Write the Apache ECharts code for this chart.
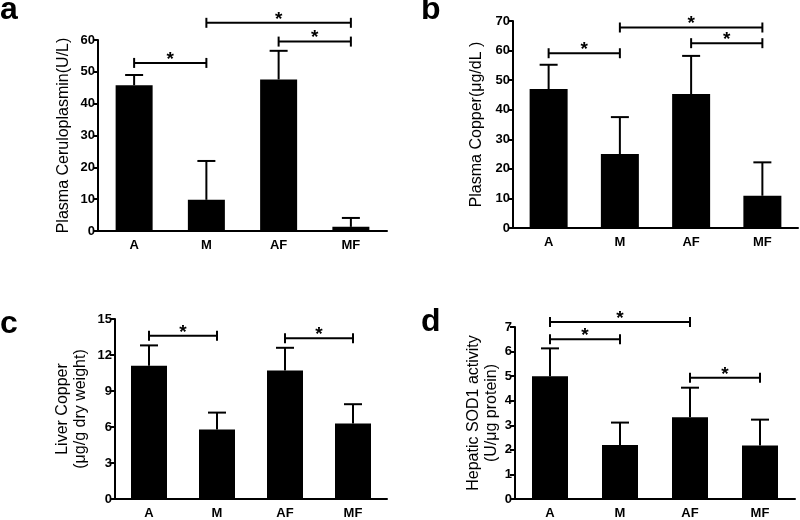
<!DOCTYPE html>
<html lang="en">
<head>
<meta charset="UTF-8">
<script src="https://cdn.jsdelivr.net/npm/echarts@6/dist/echarts.min.js"></script>
<style>
  html, body { margin: 0; padding: 0; background: #fff; }
  #main { width: 800px; height: 520px; }
</style>
</head>
<body>
<div id="main"></div>
<script>
// groups
var categories = ['A', 'M', 'AF', 'MF'];

// a - plasma ceruloplasmin (U/L)
var ceruMean = [45.8, 9.8, 47.6, 1.3];
var ceruSd = [3.2, 12.2, 9.0, 2.8];
var ceruSig = [[0, 1, 52.8], [1, 3, 65.4], [2, 3, 59.5]];

// b - plasma copper (ug/dL)
var plasmaCuMean = [47.0, 25.0, 45.3, 10.9];
var plasmaCuSd = [8.2, 12.5, 12.9, 11.3];
var plasmaCuSig = [[0, 1, 59.1], [1, 3, 67.8], [2, 3, 62.5]];

// c - liver copper
var liverCuMean = [11.1, 5.8, 10.7, 6.3];
var liverCuSd = [1.7, 1.4, 1.9, 1.6];
var liverCuSig = [[0, 1, 13.6], [2, 3, 13.4]];

// d - hepatic SOD1
var sodMean = [5.0, 2.2, 3.33, 2.18];
var sodSd = [1.13, 0.91, 1.2, 1.05];
var sodSig = [[0, 2, 7.2], [0, 1, 6.5], [2, 3, 4.93]];

var FONT = 'Liberation Sans, Arial, sans-serif';

var panels = [
  {mean: ceruMean, sd: ceruSd, sig: ceruSig, max: 60, step: 10, name: 'Plasma Ceruloplasmin(U/L)', gap: 25,
   grid: {left: 98, top: 40, width: 289, height: 191}, bar: 37},
  {mean: plasmaCuMean, sd: plasmaCuSd, sig: plasmaCuSig, max: 70, step: 10, name: 'Plasma Copper(\u03bcg/dL )', gap: 27,
   grid: {left: 513, top: 21, width: 285, height: 207}, bar: 38},
  {mean: liverCuMean, sd: liverCuSd, sig: liverCuSig, max: 15, step: 3, name: 'Liver Copper\n(\u03bcg/g dry weight)', gap: 25,
   grid: {left: 115, top: 319, width: 272, height: 182}, bar: 36},
  {mean: sodMean, sd: sodSd, sig: sodSig, max: 7, step: 1, name: 'Hepatic SOD1 activity\n(U/\u03bcg protein)', gap: 13,
   grid: {left: 515, top: 327, width: 280, height: 175}, bar: 36}
];

var grids = [], xAxes = [], yAxes = [], series = [];

panels.forEach(function (p, i) {
  grids.push(p.grid);
  xAxes.push({
    type: 'category', gridIndex: i, data: categories,
    axisLine: {lineStyle: {color: '#000', width: 2}},
    axisTick: {show: false},
    axisLabel: {color: '#000', fontFamily: FONT, fontWeight: 'bold', fontSize: 13, margin: 8}
  });
  yAxes.push({
    type: 'value', gridIndex: i, min: 0, max: p.max, interval: p.step,
    name: p.name, nameLocation: 'middle', nameGap: p.gap, nameRotate: 90,
    nameTextStyle: {color: '#000', fontFamily: FONT, fontSize: 16, lineHeight: 18},
    axisLine: {show: true, lineStyle: {color: '#000', width: 2}},
    axisTick: {show: true, length: 5, lineStyle: {color: '#000', width: 2}},
    axisLabel: {color: '#000', fontFamily: FONT, fontWeight: 'bold', fontSize: 13, margin: 3},
    splitLine: {show: false}
  });
  series.push({
    type: 'bar', xAxisIndex: i, yAxisIndex: i, data: p.mean,
    barWidth: p.bar, itemStyle: {color: '#000'}, silent: true
  });
  // error bars (upper only)
  series.push({
    type: 'custom', xAxisIndex: i, yAxisIndex: i, clip: false, silent: true,
    data: p.mean.map(function (m, k) { return [k, m, m + p.sd[k]]; }),
    encode: {x: 0, y: [1, 2]},
    renderItem: function (params, api) {
      var lo = api.coord([api.value(0), api.value(1)]);
      var hi = api.coord([api.value(0), api.value(2)]);
      var st = {stroke: '#000', lineWidth: 2};
      return {type: 'group', children: [
        {type: 'line', shape: {x1: lo[0], y1: lo[1], x2: hi[0], y2: hi[1]}, style: st},
        {type: 'line', shape: {x1: hi[0] - 9, y1: hi[1], x2: hi[0] + 9, y2: hi[1]}, style: st}
      ]};
    },
    z: 3
  });
  // significance brackets
  series.push({
    type: 'custom', xAxisIndex: i, yAxisIndex: i, clip: false, silent: true,
    data: p.sig,
    encode: {x: [0, 1], y: 2},
    renderItem: function (params, api) {
      var a = api.coord([api.value(0), api.value(2)]);
      var b = api.coord([api.value(1), api.value(2)]);
      var st = {stroke: '#000', lineWidth: 2};
      return {type: 'group', children: [
        {type: 'line', shape: {x1: a[0], y1: a[1], x2: b[0], y2: b[1]}, style: st},
        {type: 'line', shape: {x1: a[0], y1: a[1] - 5, x2: a[0], y2: a[1] + 5}, style: st},
        {type: 'line', shape: {x1: b[0], y1: b[1] - 5, x2: b[0], y2: b[1] + 5}, style: st},
        {type: 'text', x: (a[0] + b[0]) / 2, y: a[1] + 6,
         style: {text: '*', fill: '#000', font: 'bold 19px ' + FONT, align: 'center', verticalAlign: 'bottom'}}
      ]};
    },
    z: 3
  });
});

var chart = echarts.init(document.getElementById('main'));
chart.setOption({
  animation: false,
  backgroundColor: '#fff',
  grid: grids,
  xAxis: xAxes,
  yAxis: yAxes,
  series: series,
  graphic: [
    {type: 'text', left: 0, top: -6, style: {text: 'a', font: 'bold 32px ' + FONT, fill: '#000'}},
    {type: 'text', left: 421, top: -6, style: {text: 'b', font: 'bold 32px ' + FONT, fill: '#000'}},
    {type: 'text', left: 0, top: 308, style: {text: 'c', font: 'bold 32px ' + FONT, fill: '#000'}},
    {type: 'text', left: 421, top: 306, style: {text: 'd', font: 'bold 32px ' + FONT, fill: '#000'}}
  ]
});
</script>
</body>
</html>
